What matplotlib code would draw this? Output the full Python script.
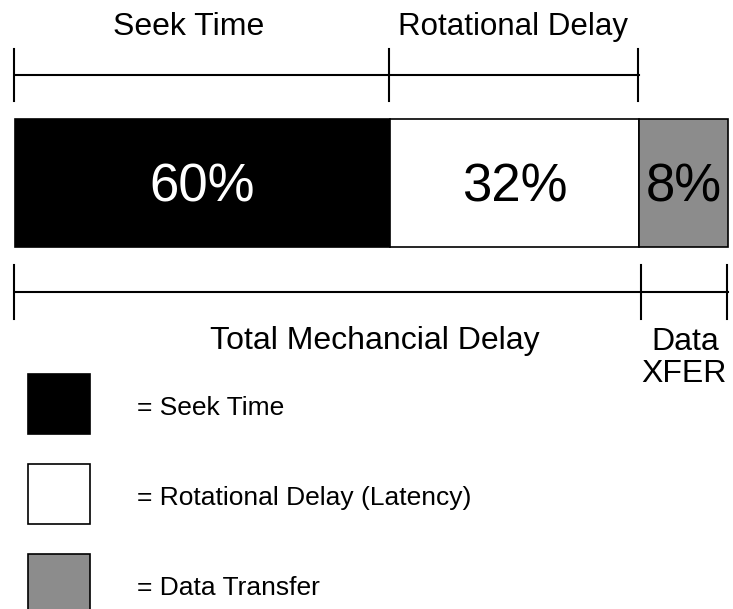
import matplotlib
matplotlib.use("Agg")
import matplotlib.pyplot as plt
import numpy as np

plt.rcParams['font.family'] = ['Liberation Sans', 'DejaVu Sans']

categories = ["Seek Time", "Rotational Delay", "Data Transfer"]
percent_labels = [60, 32, 8]
segment_widths = [375, 249, 89]
legend_labels = ["= Seek Time", "= Rotational Delay (Latency)", "= Data Transfer"]
colors = ["#000000", "#ffffff", "#8c8c8c"]
text_colors = ["white", "black", "black"]

W, H = 733, 609
fig = plt.figure(figsize=(W / 100, H / 100), dpi=100)
ax = fig.add_axes([0, 0, 1, 1])
ax.set_xlim(0, W)
ax.set_ylim(H, 0)
ax.axis('off')

x0 = 15
lefts = x0 + np.concatenate([[0], np.cumsum(segment_widths)[:-1]])
rights = lefts + np.array(segment_widths)

# main stacked bar
bar_y, bar_h = 183, 128
ax.barh([bar_y] * 3, segment_widths, left=lefts, height=bar_h,
        color=colors, edgecolor="black", linewidth=1.2)
for l, w, p, tc in zip(lefts, segment_widths, percent_labels, text_colors):
    ax.text(l + w / 2, bar_y + 18, f"{p}%", ha="center", va="baseline",
            fontsize=38, color=tc)

lw = 1.5
# top bracket (seek + rotational)
ty, th = 75, 26
ax.plot([lefts[0], rights[1]], [ty, ty], color="black", lw=lw)
for x in [lefts[0], lefts[1], rights[1]]:
    ax.plot([x - 1, x - 1], [ty - th, ty + th], color="black", lw=lw)
ax.text(188.5, 35, categories[0], ha="center", va="baseline", fontsize=23)
ax.text(512.5, 35, categories[1], ha="center", va="baseline", fontsize=22.5)

# bottom bracket (total mechanical delay + data transfer)
by, bh = 292, 27
ax.plot([lefts[0], rights[2]], [by, by], color="black", lw=lw)
for x in [lefts[0], lefts[2] + 3, rights[2]]:
    ax.plot([x - 1, x - 1], [by - bh, by + bh], color="black", lw=lw)
ax.text(375, 349, "Total Mechancial Delay", ha="center", va="baseline", fontsize=23)
ax.text(685, 350, "Data", ha="center", va="baseline", fontsize=23)
ax.text(684, 382, "XFER", ha="center", va="baseline", fontsize=23)

# legend
leg_y = [404, 494, 584]
for c, lab, y in zip(colors, legend_labels, leg_y):
    ax.add_patch(plt.Rectangle((28, y - 30), 62, 60, facecolor=c,
                               edgecolor="black", linewidth=1.2))
    ax.text(137, y + 11, lab, ha="left", va="baseline", fontsize=19)

fig.savefig("out.png", dpi=100)
